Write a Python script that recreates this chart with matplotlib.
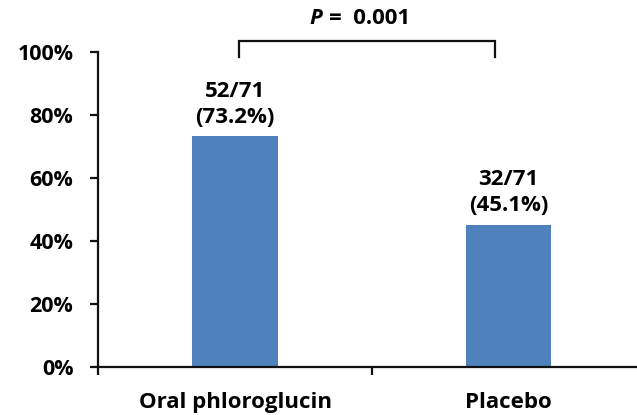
import matplotlib
matplotlib.use("Agg")
import matplotlib.pyplot as plt
from matplotlib.ticker import FixedLocator, PercentFormatter

categories = ["Oral phloroglucin", "Placebo"]
values = [73.2, 45.1]
counts = ["52/71", "32/71"]
p_value = "0.001"

plt.rcParams['font.family'] = ['Open Sans', 'DejaVu Sans']
plt.rcParams['font.weight'] = 'bold'

W, H = 637, 415
fig = plt.figure(figsize=(W / 100, H / 100), dpi=100)
ax = fig.add_axes([98.3 / W, 48 / H, (W - 98.3) / W, 315 / H])

x = list(range(len(categories)))
ax.bar(x, values, width=0.313, color="#4F81BD", zorder=2)

ax.set_xlim(-0.5, 1.47)
ax.set_ylim(0, 100)
ax.yaxis.set_major_locator(FixedLocator([0, 20, 40, 60, 80, 100]))
ax.yaxis.set_major_formatter(PercentFormatter(decimals=0))

ax.xaxis.set_major_locator(FixedLocator([-0.5, 0.5]))
ax.xaxis.set_minor_locator(FixedLocator(x))
ax.set_xticklabels([], minor=False)
ax.set_xticklabels(categories, minor=True)
ax.tick_params(axis='x', which='minor', length=0, pad=18, labelsize=16)
ax.tick_params(axis='x', which='major', length=6, width=1.6, direction='out', color='#111111')
ax.tick_params(axis='y', length=6, width=1.6, direction='out', labelsize=15.5, pad=12,
               color='#111111')

for s in ['top', 'right']:
    ax.spines[s].set_visible(False)
for s in ['left', 'bottom']:
    ax.spines[s].set_linewidth(1.6)
    ax.spines[s].set_color('#111111')

for xi, v, c in zip(x, values, counts):
    ax.annotate(f"({v:.1f}%)", (xi, v), xytext=(0, 13.8), textcoords='offset points',
                ha='center', va='center', fontsize=16, fontweight='bold')
    ax.annotate(c, (xi, v), xytext=(0, 32.5), textcoords='offset points',
                ha='center', va='center', fontsize=16, fontweight='bold')

# significance bracket
bx0, bx1 = 0.015, 0.951
ytop, ybot = 103.6, 98.4
ax.plot([bx0, bx0, bx1, bx1], [ybot, ytop, ytop, ybot], color='#111111', lw=1.6,
        clip_on=False, solid_joinstyle='miter')
xsplit = 0.329
ax.annotate("P", (xsplit, 110.5), xytext=(-2, 0), textcoords='offset points',
            ha='right', va='center', fontsize=16, fontweight='bold', fontstyle='italic',
            annotation_clip=False)
ax.annotate("=  " + p_value, (xsplit, 110.5), xytext=(3, 0), textcoords='offset points',
            ha='left', va='center', fontsize=16, fontweight='bold', annotation_clip=False)

fig.savefig("out.png", dpi=100)
